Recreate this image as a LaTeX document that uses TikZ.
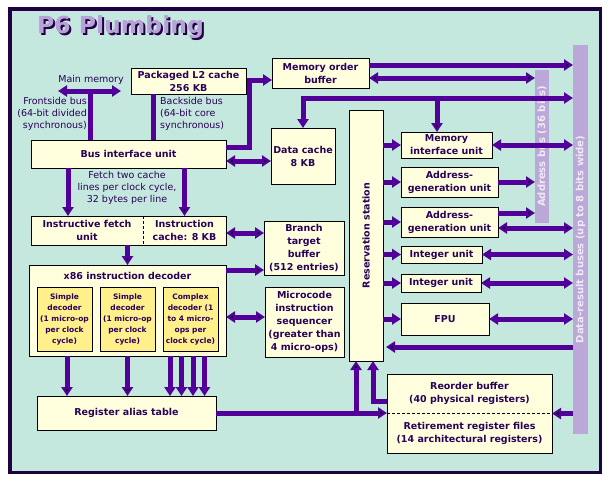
\documentclass[tikz,border=0pt]{standalone}
\usepackage{fontspec}
\setmainfont{DejaVu Sans}
\usetikzlibrary{arrows.meta}

\definecolor{bgteal}{HTML}{C4E8DE}
\definecolor{boxfill}{HTML}{FFFFDD}
\definecolor{decfill}{HTML}{FFF08C}
\definecolor{pipecol}{HTML}{520099}
\definecolor{ink}{HTML}{2A0058}
\definecolor{framecol}{HTML}{200040}
\definecolor{busbar}{HTML}{BCA8D8}
\definecolor{bustext}{HTML}{EEEAF4}
\definecolor{titlefill}{HTML}{B8A0D8}

\begin{document}
\begin{tikzpicture}[x=1pt,y=-1pt,>={Triangle[width=11pt,length=9pt]},
  unit box/.style={draw=black,line width=0.8pt,fill=boxfill,text=ink,anchor=north west,
    inner sep=0pt,outer sep=0pt,align=center,font=\fontsize{9.5}{13}\selectfont\bfseries},
  sub box/.style={unit box,fill=decfill,minimum width=55pt,minimum height=64pt,
    font=\fontsize{7.5}{11}\selectfont\bfseries},
  note/.style={text=ink,inner sep=0pt,font=\fontsize{9.5}{12}\selectfont},
  bus bar/.style={fill=busbar,anchor=north west,inner sep=0pt,outer sep=0pt},
  bus text/.style={rotate=90,text=bustext,font=\fontsize{10}{12}\selectfont\bfseries},
  title text/.style={anchor=base west,inner sep=0pt,font=\fontsize{23.5}{24}\selectfont\bfseries},
  pipe line/.style={line width=5pt,draw=pipecol}]

  % background and frame
  \useasboundingbox (0,0) rectangle (610,480);
  \fill[white] (0,0) rectangle (610,480);
  \draw[line width=3.5pt,draw=framecol,fill=bgteal] (9.75,8.75) rectangle (600.25,472.25);

  % title
  \node[title text,text=framecol] (titleshadow) at (39,35) {P6 Plumbing};
  \node[title text,text=titlefill] (title) at (37,33) {P6 Plumbing};

  % buses
  \node[bus bar,minimum width=14pt,minimum height=153pt,
    label={[bus text]center:Address bus (36 bits)}] (abus) at (535,70) {};
  \node[bus bar,minimum width=15pt,minimum height=389pt,
    label={[bus text]center:Data-result buses (up to 8 bits wide)}] (dbus) at (573,45) {};

  % units
  \node[unit box,minimum width=115pt,minimum height=26pt] (l2) at (131,68) {Packaged L2 cache\\256 KB};
  \node[unit box,minimum width=97pt,minimum height=30pt] (mob) at (272,58) {Memory order\\buffer};
  \node[unit box,minimum width=195pt,minimum height=28pt] (biu) at (31,140) {Bus interface unit};
  \node[unit box,minimum width=64pt,minimum height=56pt] (dc) at (271,128) {Data cache\\8 KB};
  \node[unit box,draw=none,minimum width=112pt,minimum height=29pt] (ifu) at (31,216) {Instructive fetch\\unit};
  \node[unit box,draw=none,minimum width=83pt,minimum height=29pt] (ic) at (143,216) {Instruction\\cache: 8 KB};
  \draw[line width=0.8pt] (ifu.north west) rectangle (ic.south east);
  \draw[line width=0.8pt,dash pattern=on 3pt off 2pt] (ifu.north east) -- (ifu.south east);
  \node[unit box,minimum width=197pt,minimum height=91pt] (dec) at (29,265) {};
  \node[note,font=\fontsize{9.5}{13}\selectfont\bfseries] (dectitle) at ([yshift=-11pt]dec.north) {x86 instruction decoder};
  \node[sub box] (sd1) at (37,287) {Simple\\decoder\\(1 micro-op\\per clock\\cycle)};
  \node[sub box] (sd2) at (100,287) {Simple\\decoder\\(1 micro-op\\per clock\\cycle)};
  \node[sub box] (cd) at (163,287) {Complex\\decoder (1\\to 4 micro-\\ops per\\clock cycle)};
  \node[unit box,minimum width=179pt,minimum height=34pt] (rat) at (37,396) {Register alias table};
  \node[unit box,minimum width=80pt,minimum height=54pt] (btb) at (264,221) {Branch\\target\\buffer\\(512 entries)};
  \node[unit box,minimum width=79pt,minimum height=70pt] (mis) at (265,287) {Microcode\\instruction\\sequencer\\(greater than\\4 micro-ops)};
  \node[unit box,minimum width=34pt,minimum height=251pt,
    label={[rotate=90,text=ink,font=\fontsize{9.5}{13}\selectfont\bfseries]center:Reservation station}] (rs) at (349,110) {};
  \node[unit box,minimum width=91pt,minimum height=26pt] (miu) at (401,132) {Memory\\interface unit};
  \node[unit box,minimum width=97pt,minimum height=30pt] (agu1) at (401,167) {Address-\\generation unit};
  \node[unit box,minimum width=97pt,minimum height=30pt] (agu2) at (401,207) {Address-\\generation unit};
  \node[unit box,minimum width=81pt,minimum height=17pt] (int1) at (401,246) {Integer unit};
  \node[unit box,minimum width=80pt,minimum height=18pt] (int2) at (401,274) {Integer unit};
  \node[unit box,minimum width=88pt,minimum height=32pt] (fpu) at (401,303) {FPU};
  \node[unit box,minimum width=165pt,minimum height=79pt] (rob) at (387,374)
    {Reorder buffer\\(40 physical registers)\\[14pt]Retirement register files\\(14 architectural registers)};
  \draw[line width=0.8pt,dash pattern=on 3pt off 2pt] (rob.west) -- (rob.east);

  % notes
  \node[note] (mmtext) at (91,80) {Main memory};
  \node[note,anchor=east,align=right] (fsbtext) at (87,114) {Frontside bus\\(64-bit divided\\synchronous)};
  \node[note,anchor=west,align=left] (bsbtext) at (160,114) {Backside bus\\(64-bit core\\synchronous)};
  \node[note,align=center] (fetchtext) at (127,188) {Fetch two cache\\lines per clock cycle,\\32 bytes per line};

  % pipes
  \coordinate (mm) at (90,91);
  \coordinate (dline) at ([yshift=30pt]dc.north);
  \draw[pipe line,<->] ([xshift=-32pt]mm) -- ([xshift=31pt]mm);
  \draw[pipe line] (mm) -- (mm |- biu.north);
  \draw[pipe line] ([xshift=-35.5pt]l2.south) -- ([xshift=-35.5pt]l2.south |- biu.north);
  \draw[pipe line,->] ([yshift=7pt]biu.east) -| ([xshift=-23pt,yshift=-7pt]mob.west) -- ([yshift=-7pt]mob.west);
  \draw[pipe line,<->] (dc.north) |- (dline -| dbus.west);
  \draw[pipe line,->] ([yshift=12.5pt]rob.west) -| ([xshift=7pt]rs.south);

  \path[pipe line]
    ([yshift=-7pt]biu.east) edge[<->] ([yshift=-7pt]biu.east -| dc.west)
    ([xshift=-19pt]ifu.north |- biu.south) edge[->] ([xshift=-19pt]ifu.north)
    (ic.north |- biu.south) edge[->] (ic.north)
    ([yshift=-2.5pt]ic.east) edge[<->] ([yshift=-2.5pt]ic.east -| btb.west)
    (dec.north |- ifu.south) edge[->] (dec.north)
    ([yshift=5pt]btb.south west -| dec.east) edge[->] ([yshift=5pt]btb.south west)
    ([yshift=5pt]mis.west -| dec.east) edge[<->] ([yshift=5pt]mis.west)
    ([xshift=2.5pt]sd1.south |- dec.south) edge[->] ([xshift=2.5pt]sd1.south |- rat.north)
    (sd2.south |- dec.south) edge[->] (sd2.south |- rat.north)
    (rat.east) edge[->] (rat.east -| rob.west)
    ([xshift=-10pt]rs.south |- rat.east) edge[->] ([xshift=-10pt]rs.south)
    (rob.east -| dbus.west) edge[->] (rob.east)
    ([yshift=14pt]rs.south east -| dbus.west) edge[->] ([xshift=3pt,yshift=14pt]rs.south east)
    ([yshift=8pt]mob.east) edge[->] ([yshift=8pt]mob.east -| dbus.west)
    ([yshift=-5pt]mob.east) edge[<->] ([yshift=-5pt]mob.east -| abus.west)
    ([xshift=-9.5pt]miu.north |- dline) edge[->] ([xshift=-9.5pt]miu.north)
    (agu1.east) edge[->] (agu1.east -| abus.west)
    ([yshift=9pt]agu2.east) edge[->] ([yshift=9pt]agu2.east -| abus.west)
    ([yshift=-6pt]agu2.east) edge[<->] ([yshift=-6pt]agu2.east -| dbus.west);

  \foreach \dx in {-20.5,-9,2.5,14}
    \draw[pipe line,->] ([xshift=\dx pt]cd.south |- dec.south) -- ([xshift=\dx pt]cd.south |- rat.north);
  \foreach \u in {miu,agu1,agu2,int1,int2,fpu}
    \draw[pipe line,->] (\u.west -| rs.east) -- (\u.west);
  \foreach \u in {miu,int1,int2,fpu}
    \draw[pipe line,<->] (\u.east) -- (\u.east -| dbus.west);
\end{tikzpicture}
\end{document}
